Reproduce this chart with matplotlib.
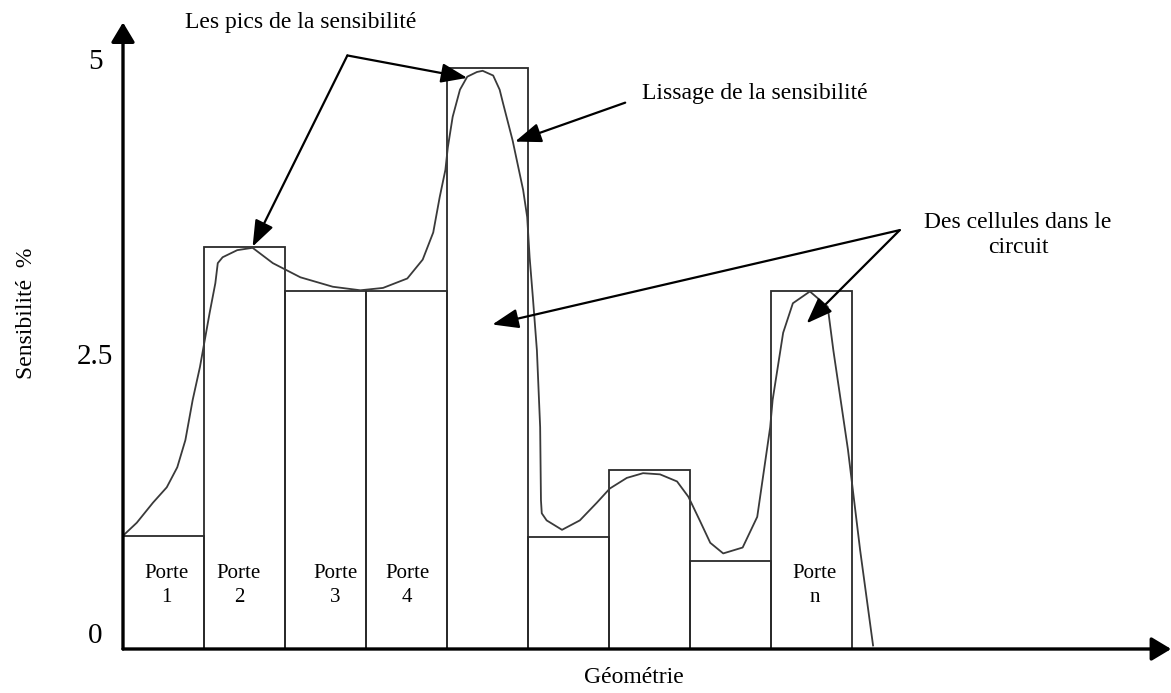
import matplotlib
matplotlib.use("Agg")
import matplotlib.pyplot as plt

plt.rcParams["font.family"] = ["Liberation Serif", "DejaVu Serif"]

# ===== DATA =====
bar_left = [0, 1, 2, 3, 4, 5, 6, 7, 8]
bar_height = [0.96, 3.41, 3.03, 3.03, 4.92, 0.95, 1.52, 0.75, 3.03]

porte_labels = ["Porte\n1", "Porte\n2", "Porte\n3", "Porte\n4", "Porte\nn"]
porte_x = [0.54, 1.43, 2.62, 3.51, 8.54]

# smoothed sensitivity curve
curve_x = [0, 0.17, 0.37, 0.54, 0.67, 0.77, 0.86, 0.95, 1.01, 1.07, 1.14, 1.17,
           1.23, 1.41, 1.60, 1.85, 2.19, 2.59, 2.93, 3.21, 3.51, 3.70, 3.83,
           3.91, 3.98, 4.01, 4.07, 4.16, 4.25, 4.37, 4.44, 4.57, 4.65, 4.69,
           4.81, 4.94, 4.99, 5.02, 5.06, 5.11, 5.15, 5.16, 5.17, 5.23, 5.42,
           5.64, 5.85, 6.01, 6.22, 6.42, 6.63, 6.84, 6.98, 7.12, 7.25, 7.41,
           7.65, 7.83, 7.95, 7.99, 8.02, 8.15, 8.27, 8.48, 8.70, 8.77, 8.95,
           9.10, 9.26]
curve_y = [0.96, 1.07, 1.24, 1.37, 1.54, 1.77, 2.11, 2.39, 2.62, 2.85, 3.10, 3.27,
           3.32, 3.38, 3.40, 3.27, 3.15, 3.07, 3.04, 3.06, 3.14, 3.30, 3.53,
           3.83, 4.06, 4.25, 4.51, 4.74, 4.85, 4.89, 4.90, 4.86, 4.74, 4.63,
           4.31, 3.89, 3.66, 3.32, 2.98, 2.53, 1.88, 1.26, 1.15, 1.09, 1.01,
           1.09, 1.24, 1.36, 1.45, 1.49, 1.48, 1.42, 1.29, 1.09, 0.90, 0.81,
           0.86, 1.12, 1.69, 1.88, 2.11, 2.68, 2.93, 3.03, 2.90, 2.53, 1.69,
           0.84, 0.03]

yticks = [0, 2.5, 5]
ytick_labels = ["0", "2.5", "5"]

fig = plt.figure(figsize=(11.71, 6.93), dpi=100)
ax = fig.add_axes([123 / 1171, 44 / 693, 1048 / 1171, 639 / 693])
ax.set_xlim(0, 1048 / 81)
ax.set_ylim(0, 639 / 118)
for s in ax.spines.values():
    s.set_visible(False)

# ===== BARS + CURVE =====
ax.bar(bar_left, bar_height, width=1, align="edge", fill=False,
       edgecolor="#2a2a2a", linewidth=1.3, zorder=2)
ax.plot(curve_x, curve_y, color="#3a3a3a", linewidth=1.3, zorder=3)

for x, lab in zip(porte_x, porte_labels):
    ax.text(x, 0.54, lab, ha="center", va="center", fontsize=15,
            linespacing=1.38)

# ===== AXES WITH ARROWS =====
axis_arrow = dict(arrowstyle="-|>,head_length=0.6,head_width=0.36",
                  color="black", lw=2.4, mutation_scale=20,
                  shrinkA=0, shrinkB=0)
ax.annotate("", xy=(0, 5.31), xytext=(0, 0), arrowprops=axis_arrow,
            annotation_clip=False)
ax.annotate("", xy=(12.94, 0), xytext=(0, 0), arrowprops=axis_arrow,
            annotation_clip=False)

ax.set_xticks([])
ax.set_yticks(yticks)
ax.set_yticklabels(ytick_labels, fontsize=21)
ax.tick_params(axis="y", length=0, pad=20)
for lab in ax.get_yticklabels():
    lab.set_ha("center")
ax.get_yticklabels()[0].set_va("bottom")

ax.set_xlabel("Géométrie", fontsize=17, va="center")
ax.xaxis.set_label_coords(0.4876, -0.045)
ax.set_ylabel("Sensibilité  %", fontsize=17, va="center")
ax.yaxis.set_label_coords(-0.092, 0.526)

# ===== ANNOTATIONS =====
ann_arrow = dict(arrowstyle="-|>,head_length=0.8,head_width=0.3",
                 color="black", lw=1.6, mutation_scale=20,
                 shrinkA=0, shrinkB=0)

ax.text(2.19, 5.31, "Les pics de la sensibilité", ha="center", va="center",
        fontsize=17)
ax.annotate("", xy=(1.60, 3.41), xytext=(2.77, 5.03), arrowprops=ann_arrow)
ax.annotate("", xy=(4.25, 4.84), xytext=(2.77, 5.03), arrowprops=ann_arrow)

ax.text(6.41, 4.71, "Lissage de la sensibilité", ha="left", va="center",
        fontsize=17)
ax.annotate("", xy=(4.84, 4.30), xytext=(6.20, 4.63), arrowprops=ann_arrow)

ax.text(11.05, 3.51, "Des cellules dans le\ncircuit", ha="center",
        va="center", fontsize=17, linespacing=1.29)
ax.annotate("", xy=(4.56, 2.75), xytext=(9.59, 3.55), arrowprops=ann_arrow)
ax.annotate("", xy=(8.44, 2.76), xytext=(9.59, 3.55), arrowprops=ann_arrow)

fig.savefig("out.png", dpi=100)
